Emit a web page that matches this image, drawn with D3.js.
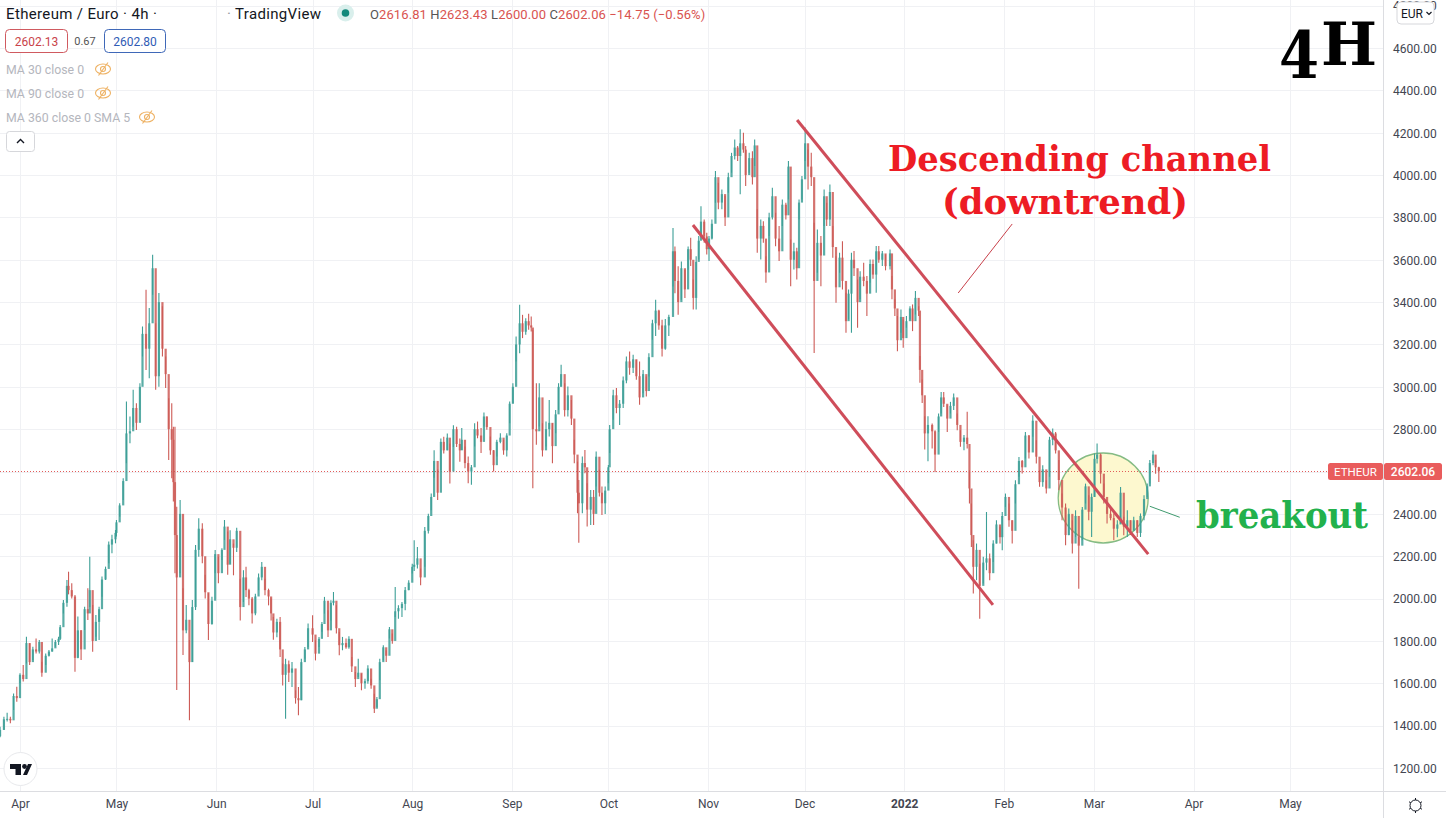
<!DOCTYPE html>
<html>
<head>
<meta charset="utf-8">
<title>Ethereum / Euro 4h</title>
<script src="https://cdn.jsdelivr.net/npm/d3@7"></script>
<style>
  html, body { margin: 0; padding: 0; background: #fff; }
  svg { display: block; }
  text { font-family: Roboto, sans-serif; }
  text.serif { font-family: "DejaVu Serif", serif; font-weight: bold; }
</style>
</head>
<body>
<div id="chart"></div>
<script>
// Candles: [day of month, high, low, close]. Open is the previous close.
const mar21 = [[25.8,1395,1345,1380],[27,1442,1380,1430],[28,1461,1419,1432],[29,1442,1411,1425],[30,1552,1474,1540],[31,1584,1513,1530]];
const apr21 = [[1,1647,1600,1640],[2,1686,1608,1620],[3,1820,1694,1790],[4,1789,1686,1700],[5,1773,1710,1760],[6,1812,1741,1750],[7,1804,1741,1795],[7.8,1702,1631,1650],[9,1741,1686,1730],[10,1757,1726,1750],[11,1812,1749,1765],[12,1804,1773,1795],[13,1820,1781,1810],[13.5,1875,1804,1865],[14.5,1993,1930,1980],[15.6,2088,1962,2060],[16.1,2127,2020,2040],[17.1,2072,2000,2010],[18.1,2017,1655,1720],[19,1915,1718,1850],[20,1852,1710,1760],[21.1,1962,1852,1950],[22.1,2049,1899,1930],[22.7,2198,1960,2040],[23.6,1970,1749,1800],[24.6,1922,1820,1890],[25.6,1962,1804,1950],[26.5,2104,2009,2090],[27.6,2151,2088,2140],[28.6,2269,2167,2255],[29.6,2301,2214,2280],[30.7,2324,2261,2310]];
const may21 = [[1,2371,2293,2360],[2,2450,2387,2440],[3.1,2568,2466,2555],[4.1,2931,2639,2780],[5.2,2860,2734,2790],[6.2,2986,2812,2900],[7.2,2923,2796,2830],[8.3,3017,2891,3000],[9.1,3285,3143,3250],[10.2,3458,3080,3180],[11.2,3372,3041,3300],[12.25,3624,3435,3560],[13.2,3300,2986,3050],[14.2,3443,3000,3400],[15.3,3380,3143,3180],[16.3,3143,2994,3060],[17.25,2946,2655,2800],[18.2,2923,2568,2750],[18.7,2812,2458,2550],[19.2,2812,2120,2300],[19.75,2434,1568,2100],[20.8,2466,2120,2400],[21.7,2049,1734,1850],[22.7,1970,1836,1900],[23.7,1804,1426,1700],[24.6,1993,1700,1960],[25.6,2253,1946,2230],[26.6,2379,2198,2330],[27.7,2356,2167,2200],[28.6,2112,2001,2030],[29.6,2025,1804,1880],[30.7,2009,1876,1990],[31.7,2230,2120,2210]];
const jun21 = [[1.7,2198,2072,2120],[2.8,2238,2182,2230],[3.6,2371,2277,2340],[4.6,2317,2112,2160],[5.35,2323,2165,2280],[6.4,2260,2110,2240],[7.4,2335,2220,2320],[8.5,2094,1897,1960],[9.5,2134,1984,2100],[10.3,2150,2008,2040],[11.2,2047,1968,2000],[12.2,2008,1882,1930],[13.2,2023,1921,2010],[14.2,2118,2039,2100],[15.2,2173,2087,2150],[16.2,2094,2016,2040],[17.3,2047,1968,2010],[18.1,2000,1897,1930],[18.8,1913,1806,1840],[19.9,1905,1818,1890],[20.9,1913,1724,1760],[21.7,1693,1590,1640],[22.6,1716,1433,1690],[23.6,1708,1606,1650],[24.6,1700,1582,1670],[25.7,1567,1504,1530],[26.6,1582,1449,1520],[27.5,1716,1520,1700],[28.6,1771,1716,1760],[29.6,1882,1771,1860]];
const jul21 = [[1,1921,1795,1830],[1.9,1803,1708,1740],[3,1819,1771,1810],[3.9,1890,1843,1880],[4.7,2008,1929,1990],[5.8,1945,1819,1850],[6.7,1992,1897,1980],[7.5,2031,1968,1990],[8.4,1968,1835,1860],[9.3,1843,1732,1780],[10.3,1819,1756,1790],[11.4,1811,1763,1770],[12.3,1822,1763,1810],[13.2,1724,1653,1680],[14.3,1653,1582,1620],[15.2,1716,1630,1650],[16.2,1645,1567,1600],[17.3,1622,1574,1610],[18.2,1685,1598,1670],[19.2,1622,1574,1590],[20.2,1551,1460,1480],[21,1535,1488,1525],[21.9,1716,1614,1700],[23,1780,1708,1770],[23.9,1756,1700,1730],[24.9,1866,1811,1855],[25.8,1835,1787,1800],[26.7,2055,1913,1940],[27.7,1968,1905,1955],[28.8,1984,1913,1975],[29.8,2055,1945,2040],[30.9,2087,2039,2075]];
const aug21 = [[1,2165,2118,2150],[1.6,2276,2130,2160],[2.6,2244,2142,2190],[3.6,2142,2063,2100],[4.9,2338,2150,2320],[6,2401,2307,2390],[6.9,2496,2417,2480],[7.8,2701,2571,2650],[8.9,2610,2465,2500],[9.9,2756,2606,2740],[10.8,2764,2685,2700],[11.9,2780,2701,2760],[12.7,2732,2543,2600],[13.8,2819,2716,2800],[14.8,2811,2716,2730],[15.8,2756,2646,2700],[16.4,2805,2702,2750],[17.4,2718,2616,2640],[18.4,2671,2545,2600],[19.4,2631,2537,2620],[20.4,2828,2718,2800],[21.3,2836,2757,2770],[22.4,2805,2687,2740],[23.3,2879,2813,2860],[24.2,2860,2797,2810],[25.3,2765,2679,2700],[26.3,2702,2600,2630],[27.3,2750,2671,2740],[28.4,2781,2734,2760],[29.4,2750,2679,2700],[30.4,2781,2671,2770],[31.3,2931,2828,2920]];
const sep21 = [[1.3,3017,2923,3000],[2.3,3238,3120,3200],[3.4,3387,3159,3300],[4.3,3340,3230,3260],[5.3,3324,3246,3310],[6.2,3345,3269,3290],[7,3332,3261,3280],[7.5,3269,2521,2800],[8.6,3017,2726,2790],[9.5,3017,2813,2950],[10.5,2828,2671,2700],[11.6,2836,2718,2800],[12.6,2938,2765,2830],[13.6,2828,2639,2720],[14.6,2891,2781,2870],[15.5,3017,2891,3000],[16.3,3104,3001,3060],[17.4,3017,2860,2890],[18.4,3001,2860,2960],[19.5,2938,2820,2850],[20.4,2750,2639,2680],[21.4,2647,2403,2500],[21.8,2560,2264,2450],[22.9,2671,2403,2640],[23.7,2702,2592,2620],[24.4,2545,2340,2420],[25.5,2513,2348,2480],[26.4,2513,2348,2400],[27.2,2694,2529,2670],[28.2,2608,2482,2500],[29,2529,2395,2450],[30,2529,2400,2510]];
const oct21 = [[1,2631,2545,2620],[1.4,2820,2687,2800],[2.5,2986,2844,2960],[3.5,2994,2875,2900],[4.5,2938,2820,2920],[5.6,3049,2900,3030],[6.6,3143,3017,3120],[7.6,3167,3057,3090],[8.7,3151,3065,3130],[9.7,3128,3033,3050],[10.7,3120,2915,2950],[11.8,3080,2970,3060],[12.8,3049,2954,2980],[13.6,3159,3049,3140],[14.7,3317,3222,3300],[15.7,3411,3240,3360],[16.7,3364,3269,3290],[17.7,3317,3143,3180],[18.7,3320,3175,3290],[19.8,3340,3240,3330],[21.1,3750,3474,3640],[21.7,3663,3442,3500],[22.7,3569,3340,3400],[23.7,3592,3411,3560],[24.8,3553,3419,3460],[25.8,3663,3553,3650],[26.6,3704,3570,3600],[27.4,3507,3365,3420],[28.3,3617,3365,3590],[29.1,3712,3601,3690],[29.8,3853,3712,3780],[30.8,3790,3680,3710],[31.6,3727,3625,3650]];
const nov21 = [[1.3,3712,3594,3700],[2.2,3790,3696,3770],[3.3,4019,3869,3990],[4.2,3964,3838,3870],[5.3,3932,3838,3910],[6.3,3901,3759,3800],[7.3,4011,3917,3990],[8.3,4105,4011,4090],[9.3,4168,4074,4130],[10.2,4137,4066,4090],[11,4216,3909,4150],[12,4200,4105,4120],[12.7,4137,3948,4000],[13.8,4105,4011,4080],[14.8,4113,3956,3990],[15.5,4168,4043,4140],[16.3,3838,3633,3700],[17.4,3790,3601,3760],[18.2,3782,3680,3700],[19,3617,3491,3540],[20,3822,3712,3800],[21,3940,3790,3900],[22,3822,3664,3700],[23.1,3759,3594,3640],[24.1,3885,3759,3860],[25.2,3869,3790,3810],[26,4066,3885,4040],[26.7,3696,3475,3600],[27.7,3680,3554,3640],[28.6,3657,3507,3560],[29.3,3885,3790,3870],[30.2,3995,3885,3980]];
const dec21 = [[1.2,4224,4066,4150],[2.1,4121,3932,4040],[3.1,4105,3948,3990],[4,3775,3160,3500],[5,3743,3539,3680],[6.1,3712,3475,3620],[7.1,3932,3759,3900],[7.9,3869,3759,3790],[8.9,3956,3759,3920],[9.8,3759,3610,3660],[10.8,3617,3397,3470],[11.9,3633,3539,3610],[12.8,3688,3460,3500],[13.9,3444,3255,3310],[14.7,3460,3318,3440],[15.6,3633,3255,3600],[16.4,3641,3523,3560],[17.5,3507,3279,3400],[18.3,3546,3413,3520],[19.4,3586,3475,3500],[20.4,3523,3334,3440],[21.4,3601,3491,3580],[22.3,3601,3510,3530],[23.3,3665,3444,3640],[24.1,3665,3586,3600],[25.2,3641,3570,3630],[26.2,3625,3550,3570],[27.6,3649,3554,3630],[28.2,3523,3413,3460],[29.1,3413,3334,3370],[29.9,3334,3168,3220],[31,3365,3255,3330],[31.7,3318,3184,3230]];
const jan22 = [[1.7,3334,3279,3310],[2.8,3381,3318,3370],[3.6,3389,3263,3310],[4.5,3452,3342,3420],[5.5,3381,3334,3360],[5.9,3145,3019,3080],[6.6,3035,2924,2960],[7.4,2861,2704,2780],[8.4,2861,2649,2820],[9.7,2827,2709,2790],[10.6,2795,2598,2680],[11.7,2874,2787,2860],[12.5,2976,2874,2950],[13.3,2976,2905,2920],[14.4,2913,2787,2850],[15.4,2929,2874,2910],[16.4,2968,2890,2950],[17.5,2874,2795,2820],[18.5,2795,2717,2740],[19.6,2772,2701,2760],[20.6,2882,2709,2730],[21.3,2606,2449,2520],[21.9,2449,2244,2300],[22.5,2275,2024,2150],[23.5,2260,2087,2230],[24.5,2165,1905,2060],[25.6,2197,2071,2170],[26.6,2409,2134,2190],[27.6,2213,2087,2120],[28.7,2276,2173,2260],[29.7,2370,2260,2350],[30.8,2339,2260,2290],[31.5,2409,2228,2390]];
const feb22 = [[1.5,2496,2433,2480],[2.6,2449,2339,2370],[3.6,2370,2260,2320],[4.6,2559,2449,2540],[5.7,2669,2575,2650],[6.7,2654,2591,2620],[7.7,2787,2661,2770],[8.8,2772,2661,2690],[10,2866,2764,2840],[11.1,2748,2638,2670],[12.1,2606,2528,2550],[13.1,2630,2528,2610],[14.2,2559,2496,2520],[15.2,2764,2575,2750],[16.2,2803,2724,2780],[17.1,2787,2685,2700],[18.1,2654,2512,2560],[19.1,2496,2370,2430],[20.2,2449,2252,2300],[21.2,2425,2299,2400],[22.3,2370,2213,2260],[23.3,2417,2291,2390],[24.3,2291,2047,2250],[25.4,2433,2276,2420],[26.4,2543,2449,2530],[27.4,2488,2370,2410],[28.3,2496,2291,2480]];
const mar22 = [[1.2,2685,2480,2660],[2,2732,2638,2680],[3.1,2685,2543,2590],[4.1,2543,2449,2480],[5.1,2433,2354,2400],[6.2,2425,2370,2380],[7.2,2402,2276,2330],[8.3,2370,2290,2350],[9.3,2527,2354,2500],[10.3,2386,2299,2340],[11.4,2417,2291,2370],[12.4,2370,2300,2320],[13.4,2386,2323,2370],[14.5,2370,2291,2310],[15.5,2402,2291,2390],[16.6,2488,2370,2470],[17.6,2543,2480,2530],[18.4,2654,2543,2640],[19.4,2698,2630,2680],[20.2,2654,2590,2620],[21.2,2622,2551,2602.06]];

// Months in order, each with its year and month index
const months = [
  [2021, 2, mar21], [2021, 3, apr21], [2021, 4, may21], [2021, 5, jun21], [2021, 6, jul21],
  [2021, 7, aug21], [2021, 8, sep21], [2021, 9, oct21], [2021, 10, nov21], [2021, 11, dec21],
  [2022, 0, jan22], [2022, 1, feb22], [2022, 2, mar22]
];

const priceTicks = [1200, 1400, 1600, 1800, 2000, 2200, 2400, 2600, 2800, 3000, 3200, 3400, 3600, 3800, 4000, 4200, 4400, 4600, 4800];
const timeTicks = [[2021,3],[2021,4],[2021,5],[2021,6],[2021,7],[2021,8],[2021,9],[2021,10],[2021,11],[2022,0],[2022,1],[2022,2],[2022,3],[2022,4]];
const timeLabels = ["Apr", "May", "Jun", "Jul", "Aug", "Sep", "Oct", "Nov", "Dec", "2022", "Feb", "Mar", "Apr", "May"];

const lastPrice = 2602.06;
// Drawn trend lines as [year, month, day, price]
const upperChannel = [[2021, 10, 28.7, 4260], [2022, 2, 17.9, 2210]];
const lowerChannel = [[2021, 9, 27.3, 3764], [2022, 0, 28.6, 1970]];
const breakoutCircle = [2022, 2, 3.9, 2475];
const channelNote = [[2022, 1, 3.6, 3769], [2022, 0, 17.8, 3443]];
const breakoutNote = [[2022, 2, 18.4, 2436], [2022, 2, 27.7, 2384]];

const legendMa = [["MA 30 close 0", 69, 103], ["MA 90 close 0", 93, 103], ["MA 360 close 0 SMA 5", 117, 147]];

const width = 1446;
const height = 820;
const axisX = 1383.5;
const axisY = 791.5;

const toDate = (y, m, d) => new Date(Date.UTC(y, m, 1) + (d - 1) * 864e5);

const x = d3.scaleUtc()
  .domain([toDate(2021, 3, 1), toDate(2022, 4, 1)])
  .range([20, 1290]);

const y = d3.scaleLinear()
  .domain([1200, 4600])
  .range([768, 48]);

const candles = [];
months.forEach(([yr, mo, rows]) => {
  rows.forEach(r => {
    const prev = candles.length ? candles[candles.length - 1].close : 1350;
    candles.push({ date: toDate(yr, mo, r[0]), high: r[1], low: r[2], close: r[3], open: prev });
  });
});

const svg = d3.select("#chart").append("svg")
  .attr("width", width)
  .attr("height", height);

svg.append("rect").attr("width", width).attr("height", height).attr("fill", "#fff");

// Grid
const plot = svg.append("g");
const gridColor = "#f0f1f4";
plot.append("g").selectAll("line").data(priceTicks).join("line")
  .attr("x1", 0).attr("x2", axisX)
  .attr("y1", d => Math.round(y(d)) + 0.5).attr("y2", d => Math.round(y(d)) + 0.5)
  .attr("stroke", gridColor);
plot.append("g").selectAll("line").data(timeTicks).join("line")
  .attr("x1", d => Math.round(x(toDate(d[0], d[1], 1))) + 0.5)
  .attr("x2", d => Math.round(x(toDate(d[0], d[1], 1))) + 0.5)
  .attr("y1", 0).attr("y2", axisY)
  .attr("stroke", gridColor);

// Highlight circle sits under the candles
plot.append("circle")
  .attr("cx", x(toDate(breakoutCircle[0], breakoutCircle[1], breakoutCircle[2])))
  .attr("cy", y(breakoutCircle[3]))
  .attr("r", 45)
  .attr("fill", "#fdf8cf")
  .attr("stroke", "#84bb84")
  .attr("stroke-width", 1.3);

// Last price line
plot.append("line")
  .attr("x1", 0).attr("x2", 1330)
  .attr("y1", Math.round(y(lastPrice)) + 0.5).attr("y2", Math.round(y(lastPrice)) + 0.5)
  .attr("stroke", "#e25c5a")
  .attr("stroke-dasharray", "1 2");

// Candles
const upColor = "#3d9f97";
const downColor = "#cd5b56";
const candleColor = d => d.close >= d.open ? upColor : downColor;
const g = plot.append("g");
g.selectAll("line").data(candles).join("line")
  .attr("x1", d => x(d.date)).attr("x2", d => x(d.date))
  .attr("y1", d => y(d.high)).attr("y2", d => y(d.low))
  .attr("stroke", candleColor)
  .attr("stroke-width", 1.1);
g.selectAll("rect").data(candles).join("rect")
  .attr("x", d => x(d.date) - 1.1)
  .attr("width", 2.2)
  .attr("y", d => y(Math.max(d.open, d.close)))
  .attr("height", d => Math.max(1, Math.abs(y(d.open) - y(d.close))))
  .attr("fill", candleColor)
  .attr("fill-opacity", 0.85);

// Drawings on top of the chart
function pathOf(pts) {
  return d3.line().x(p => x(toDate(p[0], p[1], p[2]))).y(p => y(p[3]))(pts);
}
plot.append("path").attr("d", pathOf(upperChannel)).attr("stroke", "#cf4d5a").attr("stroke-width", 3).attr("fill", "none");
plot.append("path").attr("d", pathOf(lowerChannel)).attr("stroke", "#cf4d5a").attr("stroke-width", 3).attr("fill", "none");
plot.append("path").attr("d", pathOf(channelNote)).attr("stroke", "#c8404a").attr("stroke-width", 1).attr("fill", "none");
plot.append("path").attr("d", pathOf(breakoutNote)).attr("stroke", "#3f9a6e").attr("stroke-width", 1).attr("fill", "none");

// Right axis
const yAxis = d3.axisRight(y).tickValues(priceTicks).tickFormat(d3.format(".2f")).tickSize(0).tickPadding(0);
const yAxisG = svg.append("g").attr("transform", `translate(${axisX + 9.5},0.5)`).call(yAxis);
yAxisG.select(".domain").remove();
yAxisG.selectAll("text").attr("font-family", "Roboto").attr("font-size", 12).attr("fill", "#434651");

// Bottom axis
const xAxis = d3.axisBottom(x)
  .tickValues(timeTicks.map(d => toDate(d[0], d[1], 1)))
  .tickFormat((d, i) => timeLabels[i]).tickSize(0).tickPadding(0);
const xAxisG = svg.append("g").attr("transform", `translate(0,${axisY + 8})`).call(xAxis);
xAxisG.select(".domain").remove();
xAxisG.selectAll("text")
  .attr("font-family", "Roboto")
  .attr("font-size", 12)
  .attr("fill", "#434651")
  .attr("font-weight", (d, i) => timeLabels[i] === "2022" ? "bold" : "normal");

svg.append("line").attr("x1", 0).attr("x2", width).attr("y1", axisY).attr("y2", axisY).attr("stroke", "#dcdde1");
svg.append("line").attr("x1", axisX).attr("x2", axisX).attr("y1", 0).attr("y2", 818).attr("stroke", "#dcdde1");

// Last price tags
const tagY = Math.round(y(lastPrice)) - 8;
svg.append("rect").attr("x", 1328).attr("y", tagY).attr("width", 55).attr("height", 17).attr("rx", 2.5).attr("fill", "#e95c5c");
svg.append("rect").attr("x", 1384).attr("y", tagY).attr("width", 58).attr("height", 17).attr("rx", 2.5).attr("fill", "#e95c5c");
svg.append("text").attr("x", 1355.5).attr("y", tagY + 12.5).attr("text-anchor", "middle").attr("font-size", 11.5).attr("fill", "#fff").text("ETHEUR");
svg.append("text").attr("x", 1413).attr("y", tagY + 12.5).attr("text-anchor", "middle").attr("font-size", 12).attr("font-weight", 500).attr("fill", "#fff").text("2602.06");

// EUR button
svg.append("rect").attr("x", 1397).attr("y", 2).attr("width", 37).attr("height", 22).attr("rx", 4).attr("fill", "#fff").attr("stroke", "#d6d7db");
svg.append("text").attr("x", 1401).attr("y", 17.5).attr("font-size", 12).attr("fill", "#131722").text("EUR");
svg.append("path").attr("d", "M1426.5 12l2.5 2.5 2.5-2.5").attr("fill", "none").attr("stroke", "#131722").attr("stroke-width", 1.2);

// Settings icon
svg.append("circle").attr("cx", 1415.5).attr("cy", 805.5).attr("r", 5.5).attr("fill", "none").attr("stroke", "#131722").attr("stroke-width", 1);
d3.range(0, 360, 60).forEach(a => {
  const rad = (a + 30) * Math.PI / 180;
  svg.append("line")
    .attr("x1", 1415.5 + 5.5 * Math.cos(rad)).attr("y1", 805.5 + 5.5 * Math.sin(rad))
    .attr("x2", 1415.5 + 7.5 * Math.cos(rad)).attr("y2", 805.5 + 7.5 * Math.sin(rad))
    .attr("stroke", "#131722");
});

// Header legend
const head = svg.append("g").attr("font-size", 15).attr("letter-spacing", 0.35).attr("fill", "#131722");
head.append("text").attr("x", 6).attr("y", 19).text("Ethereum / Euro · 4h ·");
head.append("text").attr("x", 227).attr("y", 19).attr("fill", "#9598a1").text("·");
head.append("text").attr("x", 235).attr("y", 19).text("TradingView");
svg.append("circle").attr("cx", 345.5).attr("cy", 13).attr("r", 8.5).attr("fill", "#d9efec");
svg.append("circle").attr("cx", 345.5).attr("cy", 13).attr("r", 3.8).attr("fill", "#12897b");

const ohlc = svg.append("text").attr("x", 370).attr("y", 19).attr("font-size", 13).attr("letter-spacing", 0.1).attr("fill", "#d9534f");
[["O", "#555"], ["2616.81 ", "#d9534f"], ["H", "#555"], ["2623.43 ", "#d9534f"], ["L", "#555"], ["2600.00 ", "#d9534f"], ["C", "#555"], ["2602.06 ", "#d9534f"], ["−14.75 (−0.56%)", "#d9534f"]]
  .forEach(p => ohlc.append("tspan").attr("fill", p[1]).attr("xml:space", "preserve").text(p[0]));

// Bid / ask badges
svg.append("rect").attr("x", 5.5).attr("y", 29.5).attr("width", 62).attr("height", 23).attr("rx", 4).attr("fill", "#fff").attr("stroke", "#d05a60");
svg.append("text").attr("x", 36.5).attr("y", 46).attr("text-anchor", "middle").attr("font-size", 12).attr("fill", "#c9434a").text("2602.13");
svg.append("text").attr("x", 85).attr("y", 45).attr("text-anchor", "middle").attr("font-size", 11).attr("fill", "#555").text("0.67");
svg.append("rect").attr("x", 104.5).attr("y", 29.5).attr("width", 61).attr("height", 23).attr("rx", 4).attr("fill", "#fff").attr("stroke", "#3f68b8");
svg.append("text").attr("x", 135).attr("y", 46).attr("text-anchor", "middle").attr("font-size", 12).attr("fill", "#2f5bb5").text("2602.80");

// Hidden moving averages, with the crossed eye
legendMa.forEach(m => {
  svg.append("text").attr("x", 6).attr("y", m[1] + 4.5).attr("font-size", 12.3).attr("fill", "#b4b6bd").text(m[0]);
  const eye = svg.append("g").attr("transform", `translate(${m[2]},${m[1]})`).attr("fill", "none").attr("stroke", "#eeb264").attr("stroke-width", 1.1);
  eye.append("ellipse").attr("rx", 7.5).attr("ry", 5);
  eye.append("circle").attr("r", 2.5);
  eye.append("line").attr("x1", -4.5).attr("y1", 6.5).attr("x2", 5).attr("y2", -6.5);
});

svg.append("rect").attr("x", 6.5).attr("y", 131.5).attr("width", 28).attr("height", 20).attr("rx", 3).attr("fill", "#fff").attr("stroke", "#d6d7db");
svg.append("path").attr("d", "M17 143l3.5-3.5 3.5 3.5").attr("fill", "none").attr("stroke", "#131722").attr("stroke-width", 1.4);

// TradingView badge
svg.append("circle").attr("cx", 20.5).attr("cy", 769).attr("r", 16.5).attr("fill", "#fff").attr("stroke", "#e8e9ec");
svg.append("path").attr("d", "M10 764h11v11h-5.5v-6H10z M28 764h4l-5 11h-4z").attr("fill", "#131722");
svg.append("circle").attr("cx", 24.5).attr("cy", 766.5).attr("r", 2.4).attr("fill", "#131722");

// Big annotations
svg.append("text").attr("class", "serif").attr("x", 1279).attr("y", 78).attr("font-size", 66).attr("fill", "#000").attr("textLength", 40).attr("lengthAdjust", "spacingAndGlyphs").text("4");
svg.append("text").attr("class", "serif").attr("x", 1321).attr("y", 65).attr("font-size", 59).attr("fill", "#000").attr("textLength", 56).attr("lengthAdjust", "spacingAndGlyphs").text("H");
svg.append("text").attr("class", "serif").attr("x", 888).attr("y", 171).attr("font-size", 36).attr("fill", "#ed1c24").attr("textLength", 383).attr("lengthAdjust", "spacingAndGlyphs").text("Descending channel");
svg.append("text").attr("class", "serif").attr("x", 942).attr("y", 214).attr("font-size", 36).attr("fill", "#ed1c24").attr("textLength", 246).attr("lengthAdjust", "spacingAndGlyphs").text("(downtrend)");
svg.append("text").attr("class", "serif").attr("x", 1196).attr("y", 528).attr("font-size", 37).attr("fill", "#22b14c").attr("textLength", 172).attr("lengthAdjust", "spacingAndGlyphs").text("breakout");
</script>
</body>
</html>
